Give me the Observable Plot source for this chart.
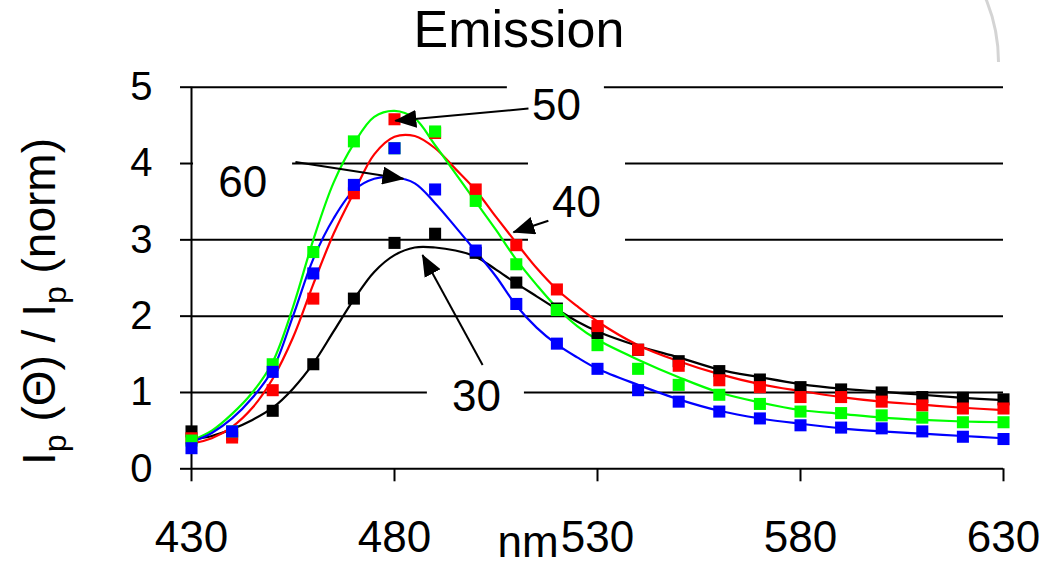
<!DOCTYPE html>
<html>
<head>
<meta charset="utf-8">
<script src="https://cdn.jsdelivr.net/npm/d3@7"></script>
<script src="https://cdn.jsdelivr.net/npm/@observablehq/plot@0.6"></script>
<style>
  body { margin: 0; background: #fff; font-family: "Liberation Sans", Arial, sans-serif; }
  #wrap { position: relative; width: 1052px; height: 565px; overflow: hidden; background: #fff; }
  #title { height: 60px; width: 1038px; padding-right: 14px; text-align: center; font-size: 52px; line-height: 58px; color: #000; }
  #arcclip { position: absolute; left: 940px; top: 0; width: 70px; height: 62px; overflow: hidden; }
  #arc { position: absolute; left: -272px; top: -104px; width: 332px; height: 332px; box-sizing: border-box; border: 3px solid #d4d4d4; border-radius: 50%; }
  #chart svg { display: block; }
</style>
</head>
<body>
<div id="wrap">
  <div id="title">Emission</div>
  <div id="chart"></div>
  <div id="arcclip"><div id="arc"></div></div>
</div>
<script>
// ---- Data ----
const pointNm = [430, 440, 450, 460, 470, 480, 490, 500, 510, 520, 530, 540, 550, 560, 570, 580, 590, 600, 610, 620, 630];
const curveNm = [430, 435, 440, 445, 450, 455, 460, 465, 470, 475, 480, 485, 490, 495, 500, 505, 510, 515, 520, 525, 530, 540, 550, 560, 570, 580, 590, 600, 610, 620, 630];

// measured points
const points30 = [0.49, 0.45, 0.76, 1.37, 2.23, 2.96, 3.08, 2.83, 2.44, 2.10, 1.78, 1.56, 1.41, 1.28, 1.17, 1.07, 1.04, 1.00, 0.94, 0.93, 0.91];
const points40 = [0.40, 0.41, 1.03, 2.23, 3.61, 4.58, 4.40, 3.66, 2.93, 2.35, 1.87, 1.56, 1.35, 1.16, 1.07, 0.94, 0.94, 0.88, 0.83, 0.79, 0.79];
const points50 = [0.37, 0.49, 1.37, 2.84, 4.29, 4.20, 4.42, 3.51, 2.68, 2.08, 1.62, 1.31, 1.10, 0.97, 0.85, 0.75, 0.73, 0.70, 0.67, 0.61, 0.61];
const points60 = [0.27, 0.49, 1.27, 2.56, 3.72, 4.20, 3.66, 2.86, 2.16, 1.64, 1.31, 1.03, 0.88, 0.75, 0.66, 0.57, 0.54, 0.53, 0.49, 0.42, 0.39];

// fitted curves
const curve30 = [0.38, 0.43, 0.52, 0.64, 0.80, 1.05, 1.38, 1.80, 2.22, 2.58, 2.80, 2.90, 2.90, 2.86, 2.78, 2.61, 2.43, 2.26, 2.09, 1.93, 1.80, 1.61, 1.46, 1.30, 1.20, 1.11, 1.05, 1.01, 0.97, 0.93, 0.90];
const curve40 = [0.33, 0.40, 0.55, 0.80, 1.18, 1.72, 2.42, 3.08, 3.62, 4.12, 4.35, 4.36, 4.20, 3.93, 3.65, 3.30, 2.96, 2.63, 2.35, 2.13, 1.93, 1.62, 1.41, 1.24, 1.11, 1.02, 0.94, 0.88, 0.84, 0.80, 0.77];
const curve50 = [0.37, 0.50, 0.72, 1.00, 1.40, 2.12, 3.00, 3.75, 4.26, 4.61, 4.69, 4.59, 4.24, 3.87, 3.50, 3.13, 2.74, 2.41, 2.11, 1.87, 1.69, 1.43, 1.20, 1.00, 0.87, 0.77, 0.72, 0.67, 0.64, 0.62, 0.61];
const curve60 = [0.35, 0.47, 0.66, 0.93, 1.30, 2.00, 2.75, 3.28, 3.65, 3.80, 3.82, 3.74, 3.48, 3.17, 2.85, 2.52, 2.14, 1.85, 1.63, 1.46, 1.31, 1.10, 0.91, 0.76, 0.66, 0.59, 0.53, 0.49, 0.46, 0.43, 0.40];

const seriesNames = ["30", "40", "50", "60"];
const seriesColors = ["#000000", "#ff0000", "#00ff00", "#0000ff"];
const seriesPoints = [points30, points40, points50, points60];
const seriesCurves = [curve30, curve40, curve50, curve60];

const xTicks = [430, 480, 530, 580, 630];
const yTicks = [0, 1, 2, 3, 4, 5];
const gridValues = [1, 2, 3, 4, 5];

// annotations (data coordinates)
const annoText = ["50", "60", "40", "30"];
const annoX = [519.9, 442.6, 524.8, 500.2];
const annoY = [4.75, 3.75, 3.48, 0.94];
const boxX1 = [507.8, 430.5, 513.0, 488.1];
const boxX2 = [531.7, 454.9, 536.9, 512.0];
const boxY1 = [4.43, 3.36, 2.93, 0.66];
const boxY2 = [5.09, 4.17, 4.11, 1.18];
const arrowX1 = [513.0, 455.6, 517.9, 501.7];
const arrowY1 = [4.72, 4.02, 3.25, 1.36];
const arrowX2 = [480.2, 482.2, 509.3, 486.9];
const arrowY2 = [4.56, 3.80, 3.10, 2.80];

// ---- Build tables ----
const annoIdx = annoText.map((_, i) => i);
const lineMarks = seriesNames.map((s, k) =>
  Plot.line(curveNm.map((x, i) => ({x, y: seriesCurves[k][i]})), {
    x: "x", y: "y", stroke: seriesColors[k], strokeWidth: 2.2, curve: "catmull-rom"
  })
);
const dotMarks = seriesNames.map((s, k) =>
  Plot.dot(pointNm.map((x, i) => ({x, y: seriesPoints[k][i]})), {
    x: "x", y: "y", symbol: "square", r: 6.8, fill: seriesColors[k], stroke: "none"
  })
);

const FONT = "Liberation Sans, Arial, sans-serif";

const chart = Plot.plot({
  width: 1052,
  height: 505,
  marginLeft: 191,
  marginRight: 49,
  marginTop: 26.7,
  marginBottom: 96.7,
  x: {domain: [430, 630]},
  y: {domain: [0, 5]},
  style: {fontFamily: FONT, fontSize: "40px", color: "black", background: "white", overflow: "visible"},
  marks: [
    Plot.ruleY(gridValues, {x1: 430, x2: 630, stroke: "black", strokeWidth: 2}),
    Plot.rect(annoIdx, {x1: i => boxX1[i], x2: i => boxX2[i], y1: i => boxY1[i], y2: i => boxY2[i], fill: "white"}),
    Plot.ruleY([0], {x1: 430, x2: 630, stroke: "black", strokeWidth: 2}),
    Plot.ruleX([430], {y1: 0, y2: 5, stroke: "black", strokeWidth: 2}),
    Plot.axisY(yTicks, {tickSize: 11, tickPadding: 28, fontSize: 40, strokeWidth: 2, tickFormat: d => String(d), label: null}),
    Plot.axisX(xTicks, {tickSize: 13, tickPadding: 39, fontSize: 44, strokeWidth: 2, tickFormat: d => String(d), label: null}),
    ...lineMarks,
    ...dotMarks,
    Plot.text(annoIdx, {x: i => annoX[i], y: i => annoY[i], text: i => annoText[i], fontSize: 44, textAnchor: "middle", lineAnchor: "middle", fill: "black"}),
    Plot.link(annoIdx, {x1: i => arrowX1[i], y1: i => arrowY1[i], x2: i => arrowX2[i], y2: i => arrowY2[i], stroke: "black", strokeWidth: 2})
  ]
});

document.getElementById("chart").appendChild(chart);

// filled arrowheads
const svg = d3.select(chart);
const defs = svg.insert("defs", ":first-child");
defs.append("marker")
  .attr("id", "tri")
  .attr("viewBox", "0 0 22 18")
  .attr("refX", 21).attr("refY", 9)
  .attr("markerWidth", 22).attr("markerHeight", 18)
  .attr("markerUnits", "userSpaceOnUse")
  .attr("orient", "auto")
  .append("path").attr("d", "M0,0L22,9L0,18Z").attr("fill", "black");
svg.selectAll('g[aria-label="link"] path').attr("marker-end", "url(#tri)");

// y axis label with subscripts
const yl = svg.append("text")
  .attr("transform", "translate(55,241.5) rotate(-90)")
  .attr("text-anchor", "middle")
  .attr("font-family", FONT)
  .attr("font-size", 46)
  .attr("fill", "black");
yl.append("tspan").text("I");
yl.append("tspan").attr("font-size", 32).attr("dy", 11).text("p");
yl.append("tspan").attr("dy", -11).text(" (Θ) / I");
yl.append("tspan").attr("font-size", 32).attr("dy", 11).text("p");
yl.append("tspan").attr("dy", -11).text(" (norm)");

// x axis unit label
const xs = chart.scale("x");
svg.append("text")
  .attr("x", xs.apply(513))
  .attr("y", 497)
  .attr("text-anchor", "middle")
  .attr("font-family", FONT)
  .attr("font-size", 44)
  .attr("fill", "black")
  .text("nm");
</script>
</body>
</html>
